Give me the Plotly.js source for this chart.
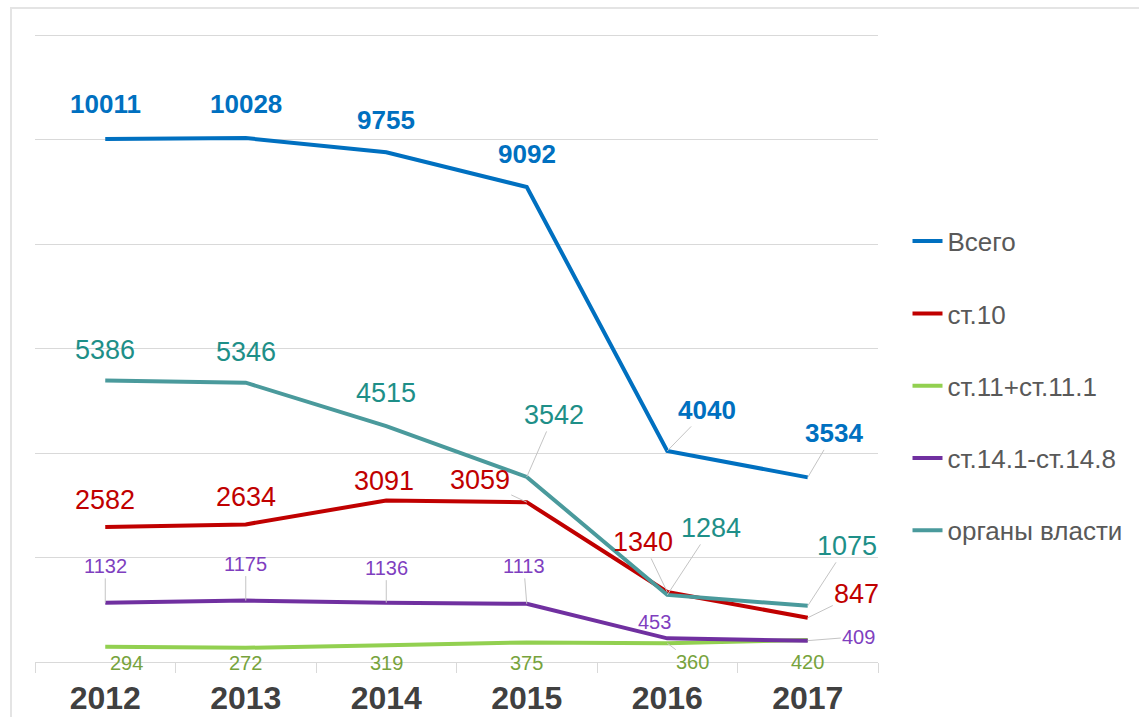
<!DOCTYPE html>
<html>
<head>
<meta charset="utf-8">
<script src="https://cdn.plot.ly/plotly-3.0.1.min.js"></script>
<style>
  html, body { margin: 0; padding: 0; background: #fff; }
  #chart { width: 1139px; height: 717px; }
  #frame { position: absolute; left: 10px; top: 7px; width: 1129px; height: 710px;
           border-top: 2px solid #e4e4e4; border-left: 2px solid #e4e4e4; pointer-events: none; box-sizing: border-box; }
</style>
</head>
<body>
<div id="chart"></div>
<div id="frame"></div>
<script>
// ---- data ----
const years = ['2012', '2013', '2014', '2015', '2016', '2017'];
const total = [10011, 10028, 9755, 9092, 4040, 3534];
const st10 = [2582, 2634, 3091, 3059, 1340, 847];
const st11 = [294, 272, 319, 375, 360, 420];
const st14 = [1132, 1175, 1136, 1113, 453, 409];
const authorities = [5386, 5346, 4515, 3542, 1284, 1075];
const seriesNames = ['Всего', 'ст.10', 'ст.11+ст.11.1', 'ст.14.1-ст.14.8', 'органы власти'];

// ---- styles ----
const lineColors = ['#0070C0', '#C00000', '#92D050', '#7030A0', '#4A9A9C'];
const labelColors = ['#0070C0', '#C00000', '#77A33C', '#7F3FBF', '#1E8F88'];
const labelSizes = [26, 27, 20, 20, 27];
const labelBold = [true, false, false, false, false];
// label offsets in pixels [dx, dy, leaderLine]
const labelOffsets = [
  [[0,-35,0],[0,-34,0],[0,-32,0],[0,-33,0],[40,-41,1],[26,-44,1]],
  [[0,-27,0],[0,-27,0],[-2,-20,0],[-47,-22,1],[-24,-50,1],[49,-24,1]],
  [[21,16,0],[0,15,0],[0,18,0],[0,21,0],[25,19,1],[0,22,0]],
  [[0,-37,1],[0,-37,1],[0,-35,1],[-3,-38,1],[-13,-16,0],[51,-4,1]],
  [[0,-31,0],[0,-31,0],[0,-33,0],[27,-62,1],[44,-67,1],[39,-60,1]]
];

const allSeries = [total, st10, st11, st14, authorities];
const font = 'Liberation Sans, Arial, sans-serif';

const traces = allSeries.map((vals, i) => ({
  type: 'scatter', mode: 'lines', x: years, y: vals, name: seriesNames[i],
  legendgroup: 'g' + i,
  line: {color: lineColors[i], width: 4},
  hoverinfo: 'skip'
}));

const annotations = [];
allSeries.forEach((vals, i) => {
  vals.forEach((v, j) => {
    const off = labelOffsets[i][j];
    annotations.push({
      x: j, y: v, xref: 'x', yref: 'y',
      text: labelBold[i] ? '<b>' + v + '</b>' : String(v),
      showarrow: true, arrowhead: 0, standoff: 0,
      arrowwidth: 1, arrowcolor: off[2] ? '#c4c4c4' : 'rgba(255,255,255,0)',
      ax: off[0], ay: off[1],
      font: {family: font, size: labelSizes[i], color: labelColors[i]}
    });
  });
});

const layout = {
  width: 1139, height: 717,
  margin: {l: 35, r: 259, t: 34, b: 55},
  paper_bgcolor: '#ffffff', plot_bgcolor: '#ffffff',
  showlegend: true,
  legend: {
    x: 1.035, xanchor: 'left', y: 0.44, yanchor: 'middle',
    font: {family: font, size: 26, color: '#595959'},
    tracegroupgap: 35.5, bgcolor: 'rgba(0,0,0,0)'
  },
  xaxis: {
    type: 'category', range: [-0.5, 5.5], fixedrange: true,
    showgrid: false, showline: true, linecolor: '#d9d9d9', linewidth: 1,
    ticks: 'outside', tickson: 'boundaries', ticklen: 10, tickcolor: '#d9d9d9',
    ticklabelstandoff: 8,
    tickfont: {family: font, size: 32, weight: 'bold', color: '#404040'},
    zeroline: false
  },
  yaxis: {
    range: [0, 12020], tick0: 0, dtick: 2000, fixedrange: true,
    showgrid: true, gridcolor: '#d9d9d9', gridwidth: 1,
    showticklabels: false, zeroline: false, showline: false
  },
  annotations: annotations
};

Plotly.newPlot('chart', traces, layout, {displayModeBar: false, staticPlot: true});
</script>
</body>
</html>
